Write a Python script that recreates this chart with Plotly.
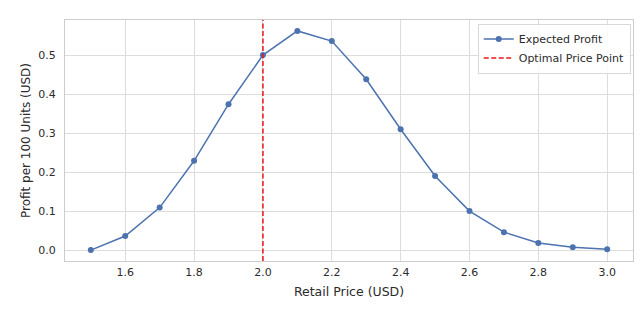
import plotly.graph_objects as go

prices = [1.5, 1.6, 1.7, 1.8, 1.9, 2.0, 2.1, 2.2, 2.3, 2.4, 2.5, 2.6, 2.7, 2.8, 2.9, 3.0]
profit = [0.0, 0.036, 0.109, 0.229, 0.374, 0.5, 0.562, 0.536, 0.438, 0.31, 0.19, 0.1, 0.046, 0.018, 0.007, 0.002]
optimal_price = 2.0
x_ticks = [1.6, 1.8, 2.0, 2.2, 2.4, 2.6, 2.8, 3.0]
y_ticks = [0.0, 0.1, 0.2, 0.3, 0.4, 0.5]

text_color = "#2b2b2b"
font_family = "DejaVu Sans"

fig = go.Figure()
fig.add_trace(go.Scatter(
    x=prices, y=profit, mode="lines+markers", name="Expected Profit",
    line=dict(color="#4c72b0", width=1.5),
    marker=dict(color="#4c72b0", size=6),
))
fig.add_vline(
    x=optimal_price, line=dict(color="#e8181c", width=1.5, dash="5px,2.5px"),
    showlegend=True, name="Optimal Price Point",
)

fig.update_layout(
    width=643, height=310,
    margin=dict(l=65, r=10, t=20, b=49),
    paper_bgcolor="white", plot_bgcolor="white",
    font=dict(family=font_family, size=11, color=text_color),
    legend=dict(
        x=0.996, y=0.985, xanchor="right", yanchor="top",
        bgcolor="rgba(255,255,255,0.85)", bordercolor="#d9d9d9", borderwidth=1,
        font=dict(size=11, color=text_color),
        itemwidth=30, tracegroupgap=0,
    ),
    showlegend=True,
)
fig.update_xaxes(
    range=[1.425, 3.075], tickvals=x_ticks, tickformat=".1f",
    showgrid=True, gridcolor="#dddddd", gridwidth=1,
    showline=True, mirror=True, linecolor="#cccccc", linewidth=1.25,
    zeroline=False, ticks="", ticklabelstandoff=1,
    title=dict(text="Retail Price (USD)", font=dict(size=12.5, color=text_color), standoff=8),
    tickfont=dict(size=11, color=text_color),
)
fig.update_yaxes(
    range=[-0.028, 0.59], tickvals=y_ticks, tickformat=".1f",
    showgrid=True, gridcolor="#dddddd", gridwidth=1,
    showline=True, mirror=True, linecolor="#cccccc", linewidth=1.25,
    zeroline=False, ticks="", ticklabelstandoff=6,
    title=dict(text="Profit per 100 Units (USD)", font=dict(size=12, color=text_color), standoff=4),
    tickfont=dict(size=11, color=text_color),
)

fig.write_html("out.html", config={"displayModeBar": False},
               post_script="document.body.style.margin='0';")
